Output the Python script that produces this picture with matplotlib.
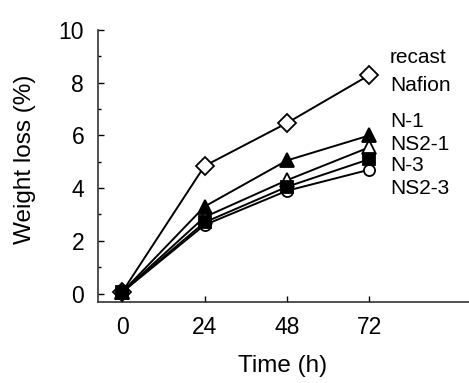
import matplotlib
matplotlib.use("Agg")
import matplotlib.pyplot as plt
from matplotlib.ticker import MultipleLocator

plt.rcParams['font.family'] = ['Liberation Sans', 'DejaVu Sans']

time_h = [0, 24, 48, 72]
recast_nafion = [0.05, 4.84, 6.47, 8.29]
n1 = [0.05, 3.3, 5.05, 6.0]
ns2_1 = [0.05, 2.9, 4.3, 5.55]
n3 = [0.05, 2.7, 4.05, 5.1]
ns2_3 = [0.05, 2.6, 3.9, 4.7]

labels = ["recast", "Nafion", "N-1", "NS2-1", "N-3", "NS2-3"]
label_y = [8.94, 7.91, 6.51, 5.67, 4.84, 3.97]
xticks = [0, 24, 48, 72]
yticks = [0, 2, 4, 6, 8, 10]

fig = plt.figure(figsize=(4.69, 3.83), dpi=100)
ax = fig.add_axes([0.209, 0.2115, 0.791, 0.7102])

lw = 1.4
ax.plot(time_h, recast_nafion, '-', color='black', lw=lw, marker='D', ms=9.5,
        mfc='white', mec='black', mew=1.3, zorder=3)
ax.plot(time_h, ns2_3, '-', color='black', lw=lw, marker='o', ms=8,
        mfc='white', mec='black', mew=1.3, zorder=3)
ax.plot(time_h, ns2_1, '-', color='black', lw=lw, marker='^', ms=9.5,
        mfc='white', mec='black', mew=1.3, zorder=3)
ax.plot(time_h, n3, '-', color='black', lw=lw, marker='s', ms=8,
        mfc='black', mec='black', mew=1.3, zorder=4)
ax.plot(time_h, n1, '-', color='black', lw=lw, marker='^', ms=9.5,
        mfc='black', mec='black', mew=1.3, zorder=4)

ax.set_xlim(-7, 101)
ax.set_ylim(-0.32, 10)
ax.set_xticks(xticks)
ax.set_yticks(yticks)
ax.yaxis.set_minor_locator(MultipleLocator(1))
ax.tick_params(axis='both', which='major', direction='in', length=4, width=1,
               labelsize=16.5, pad=10)
ax.tick_params(axis='y', which='minor', direction='in', length=2.5, width=1)
ax.tick_params(axis='x', which='minor', bottom=False)
for s in ['top', 'right']:
    ax.spines[s].set_visible(False)
for s in ['left', 'bottom']:
    ax.spines[s].set_linewidth(1.2)
    ax.spines[s].set_color('#333333')

ax.set_xlabel("Time (h)", fontsize=17.5, va='center')
ax.set_ylabel("Weight loss (%)", fontsize=17.5, va='center')
ax.xaxis.set_label_coords(0.4987, -0.235)
ax.yaxis.set_label_coords(-0.197, 0.526)

for lab, yy in zip(labels, label_y):
    ax.text(78, yy, lab, fontsize=15, va='center', ha='left')

fig.savefig("out.png", dpi=100)
